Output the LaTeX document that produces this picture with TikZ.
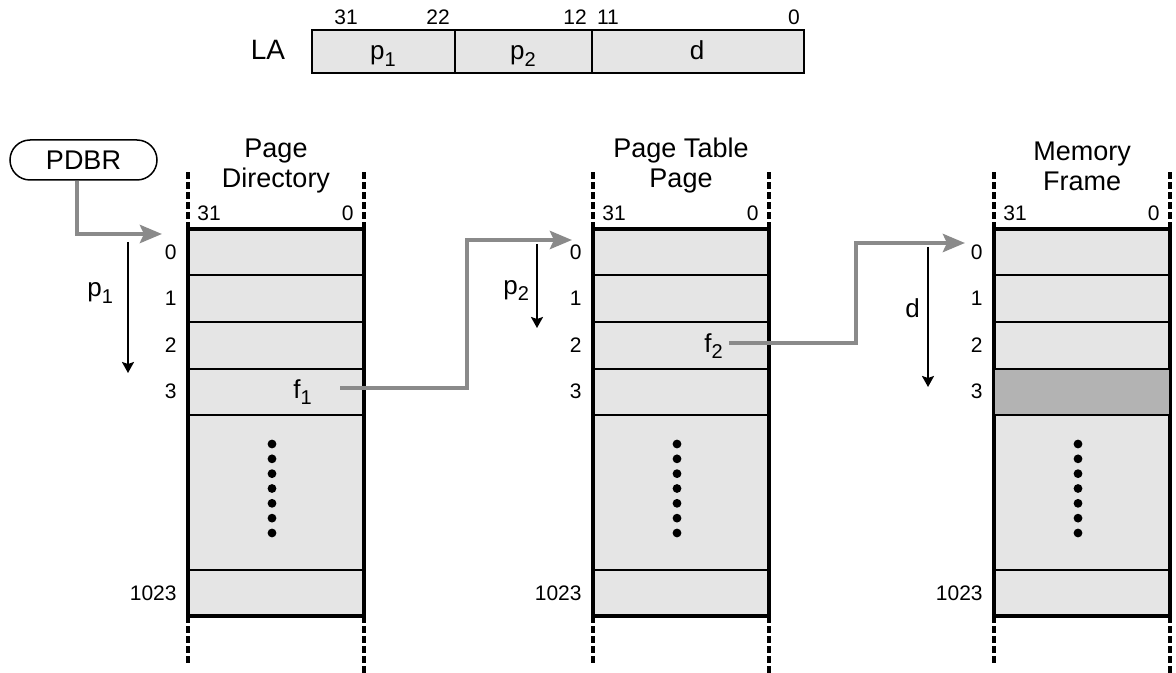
\documentclass[tikz,border=0pt]{standalone}
\usepackage{fontspec}
\setmainfont{Liberation Sans}
\usetikzlibrary{arrows.meta}

\definecolor{cellgray}{HTML}{E5E5E5}
\definecolor{hitgray}{HTML}{B3B3B3}
\definecolor{ptrgray}{HTML}{8A8A8A}
\newcommand\lsub[2]{#1\raisebox{-0.5ex}{\fontsize{10}{12}\selectfont #2}}

\begin{document}
\begin{tikzpicture}[x=0.5pt,y=-0.5pt,
    wall/.style={line width=2pt},
    rowline/.style={line width=1pt},
    ext/.style={line width=2pt,dash pattern=on 3.5pt off 1.5pt},
    ptr/.style={draw=ptrgray,line width=2.2pt,-{Stealth[length=11pt,width=9pt,inset=2pt]}},
    idx/.style={line width=1pt,-{Stealth[length=5.5pt,width=6pt,inset=1pt]}},
    big/.style={font=\fontsize{13}{15}\selectfont,inner sep=0pt},
    title/.style={font=\fontsize{13.5}{15}\selectfont,align=center,inner sep=0pt},
    num/.style={font=\fontsize{10.5}{12}\selectfont,inner sep=0pt}]
\useasboundingbox (0,0) rectangle (1176,673);

% linear address
\node[big,font=\fontsize{14}{16}\selectfont,anchor=base] (la) at (268,60) {LA};
\draw[fill=cellgray,line width=1pt] (312,30) rectangle (804,73);
\draw[line width=1pt] (455,30) -- (455,73) (592,30) -- (592,73);
\node[big,anchor=base] (la-p1) at (383,60) {\lsub{p}{1}};
\node[big,anchor=base] (la-p2) at (523,60) {\lsub{p}{2}};
\node[big,anchor=base] (la-d) at (697,60) {d};
\foreach \bx/\bn in {346/31,438/22,575/12,608/11,794/0}
  \node[num,anchor=base] (bit\bn) at (\bx,25) {\bn};

% the three tables
\foreach \tx/\tn/\ttl in {188/dir/{Page\\Directory},593/pt/{Page Table\\Page},994/mem/{Memory\\Frame}}{
  \begin{scope}[shift={(\tx,0)}]
    \fill[cellgray] (0,229) rectangle (176,616);
    \foreach \ry in {275.5,322,368.5,415,570}
      \draw[rowline] (0,\ry) -- (176,\ry);
    \draw[wall] (0,229) rectangle (176,616);
    \draw[ext] (0,229) -- (0,172);
    \draw[ext] (176,229) -- (176,172);
    \draw[ext] (0,616) -- (0,665);
    \draw[ext] (176,616) -- (176,673);
    \node[title] (title-\tn) at (88,166) {\ttl};
    \node[num,anchor=west] (msb-\tn) at (9,213) {31};
    \node[num,anchor=east] (lsb-\tn) at (166,213) {0};
    \foreach \ry/\rn in {252/0,298.5/1,345/2,391.5/3,593/1023}
      \node[num,anchor=east] (row\rn-\tn) at (-11,\ry) {\rn};
    \foreach \k in {0,...,6}
      \fill (84,{444+14.83*\k}) circle (2.2pt);
  \end{scope}
}
\filldraw[fill=hitgray,rowline] (994,368.5) rectangle (1170,415);

% base register
\node[draw,rounded corners=10pt,minimum width=73.5pt,minimum height=20pt,line width=0.75pt,
  font=\fontsize{13.5}{15}\selectfont] (pdbr) at (83.5,160) {PDBR};
\coordinate (in-dir) at (162,234);
\draw[ptr] ([xshift=-3.25pt]pdbr.south) |- (in-dir);

% index offsets
\coordinate (p1-top) at (128,242);
\coordinate (p1-bot) at (128,373);
\draw[idx] (p1-top) -- (p1-bot);
\node[big,anchor=base west] (lbl-p1) at (87,297) {\lsub{p}{1}};

\coordinate (p2-top) at (537,244);
\coordinate (p2-bot) at (537,328);
\draw[idx] (p2-top) -- (p2-bot);
\node[big,anchor=base west] (lbl-p2) at (503,294) {\lsub{p}{2}};

\coordinate (d-top) at (928,247);
\coordinate (d-bot) at (928,387);
\draw[idx] (d-top) -- (d-bot);
\node[big,anchor=base west] (lbl-d) at (905,317) {d};

% frame pointers
\node[big,anchor=base west] (f1) at (293,398) {\lsub{f}{1}};
\coordinate (out-f1) at (340,388);
\coordinate (in-pt) at (572,240);
\draw[ptr] (out-f1) -- (467,388) |- (in-pt);

\node[big,anchor=base west] (f2) at (704,352) {\lsub{f}{2}};
\coordinate (out-f2) at (729,343);
\coordinate (in-mem) at (965,243);
\draw[ptr] (out-f2) -- (856,343) |- (in-mem);
\end{tikzpicture}
\end{document}
